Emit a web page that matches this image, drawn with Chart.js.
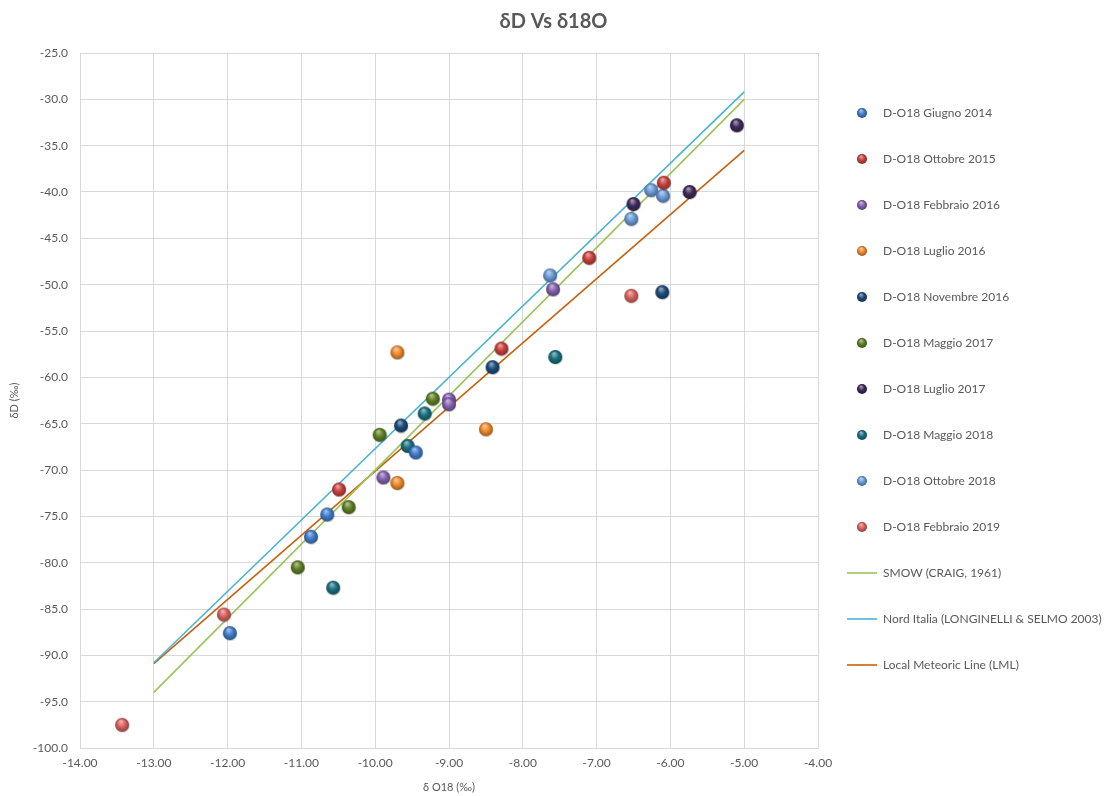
<!DOCTYPE html>
<html>
<head>
<meta charset="utf-8">
<script src="https://cdn.jsdelivr.net/npm/chart.js@4.4.0/dist/chart.umd.min.js"></script>
<style>
html, body { margin: 0; padding: 0; background: #fff; }
</style>
</head>
<body>
<canvas id="isotopi" width="1107" height="796"></canvas>
<script>
// campioni: X = delta 18O, Y = delta D
var giugno2014X = [-11.97, -10.87, -10.65, -9.45]
var giugno2014Y = [-87.6, -77.2, -74.8, -68.1]
var ottobre2015X = [-10.49, -8.29, -7.10, -6.09]
var ottobre2015Y = [-72.1, -56.9, -47.1, -39.0]
var febbraio2016X = [-9.89, -9.00, -9.00, -7.59]
var febbraio2016Y = [-70.8, -62.4, -62.9, -50.5]
var luglio2016X = [-9.70, -9.70, -8.50]
var luglio2016Y = [-57.3, -71.4, -65.6]
var novembre2016X = [-9.65, -8.41, -6.11]
var novembre2016Y = [-65.2, -58.9, -50.8]
var maggio2017X = [-11.05, -10.36, -9.94, -9.22]
var maggio2017Y = [-80.5, -74.0, -66.2, -62.3]
var luglio2017X = [-6.50, -5.74, -5.10]
var luglio2017Y = [-41.3, -40.0, -32.8]
var maggio2018X = [-10.57, -9.56, -9.33, -7.56]
var maggio2018Y = [-82.7, -67.4, -63.9, -57.8]
var ottobre2018X = [-7.63, -6.53, -6.26, -6.10]
var ottobre2018Y = [-49.0, -42.9, -39.8, -40.4]
var febbraio2019X = [-13.43, -12.05, -6.53]
var febbraio2019Y = [-97.5, -85.6, -51.2]

// rette di riferimento (estremi)
var retteX = [-13, -5]
var smowY = [-94.0, -30.0]
var nordItaliaY = [-90.8, -29.2]
var lmlY = [-90.9, -35.5]

var xTicks = [-14, -13, -12, -11, -10, -9, -8, -7, -6, -5, -4]
var yMin = -100, yMax = -25

var serie = [
    ['D-O18 Giugno 2014', giugno2014X, giugno2014Y, '#3f7dcc'],
    ['D-O18 Ottobre 2015', ottobre2015X, ottobre2015Y, '#c9413c'],
    ['D-O18 Febbraio 2016', febbraio2016X, febbraio2016Y, '#8461b0'],
    ['D-O18 Luglio 2016', luglio2016X, luglio2016Y, '#f08a2c'],
    ['D-O18 Novembre 2016', novembre2016X, novembre2016Y, '#1d4b7a'],
    ['D-O18 Maggio 2017', maggio2017X, maggio2017Y, '#5f7f25'],
    ['D-O18 Luglio 2017', luglio2017X, luglio2017Y, '#3f2a5a'],
    ['D-O18 Maggio 2018', maggio2018X, maggio2018Y, '#1a6f80'],
    ['D-O18 Ottobre 2018', ottobre2018X, ottobre2018Y, '#6a9bd8'],
    ['D-O18 Febbraio 2019', febbraio2019X, febbraio2019Y, '#d9625e']
]
var rette = [
    ['SMOW (CRAIG, 1961)', smowY, '#9bc45a'],
    ['Nord Italia (LONGINELLI & SELMO 2003)', nordItaliaY, '#4bb4d0'],
    ['Local Meteoric Line (LML)', lmlY, '#c8600e']
]

function shade(hex, amt) {
    var n = parseInt(hex.slice(1), 16)
    var c = [n >> 16, (n >> 8) & 255, n & 255]
    var t = amt < 0 ? 0 : 255, p = Math.abs(amt)
    c = c.map(function(v) { return Math.round(v + (t - v) * p) })
    return 'rgb(' + c.join(',') + ')'
}

// pallina "3D" come nei grafici excel
function sphere(hex, d, ombra) {
    var c = document.createElement('canvas')
    c.width = d + 2
    c.height = d + 2
    var ctx = c.getContext('2d')
    var r = d / 2, cx = d / 2 + 1, cy = d / 2 + 1
    if (ombra) {
        ctx.fillStyle = 'rgba(0,0,0,0.15)'
        ctx.beginPath()
        ctx.arc(cx + 0.5, cy + 1, r, 0, Math.PI * 2)
        ctx.fill()
    }
    var g = ctx.createRadialGradient(cx - r * 0.2, cy - r * 0.5, r * 0.1, cx, cy, r)
    g.addColorStop(0, shade(hex, 0.5))
    g.addColorStop(0.5, hex)
    g.addColorStop(1, shade(hex, -0.35))
    ctx.fillStyle = g
    ctx.beginPath()
    ctx.arc(cx, cy, r, 0, Math.PI * 2)
    ctx.fill()
    return c
}

var datasets = []
var legendDots = []
serie.forEach(function(s) {
    var punti = s[1].map(function(x, i) { return {x: x, y: s[2][i]} })
    datasets.push({
        label: s[0],
        data: punti,
        pointStyle: sphere(s[3], 14, true),
        backgroundColor: s[3],
        borderColor: s[3]
    })
    legendDots.push(sphere(s[3], 10, false))
})
rette.forEach(function(r) {
    datasets.push({
        label: r[0],
        data: retteX.map(function(x, i) { return {x: x, y: r[1][i]} }),
        showLine: true,
        pointRadius: 0,
        pointHoverRadius: 0,
        borderColor: r[2],
        backgroundColor: r[2],
        borderWidth: 1.6
    })
})

var spostaLegenda = {
    id: 'spostaLegenda',
    afterLayout: function(chart) {
        chart.legend.left -= 5
        chart.legend.top -= 18
    }
}

var grigio = '#595959'
var griglia = '#d9d9d9'

new Chart(document.getElementById('isotopi'), {
    type: 'scatter',
    data: { datasets: datasets },
    plugins: [spostaLegenda],
    options: {
        responsive: false,
        animation: false,
        devicePixelRatio: 1,
        plugins: {
            title: {
                display: true,
                text: 'δD Vs δ18O',
                color: grigio,
                font: { family: 'Lato', size: 20, weight: 'bold' },
                padding: { top: 10, bottom: 19 }
            },
            legend: {
                position: 'right',
                maxWidth: 289,
                labels: {
                    usePointStyle: true,
                    pointStyleWidth: 30,
                    padding: 34,
                    color: grigio,
                    font: { family: 'Lato', size: 12 },
                    generateLabels: function(chart) {
                        var items = Chart.defaults.plugins.legend.labels.generateLabels(chart)
                        items.forEach(function(it, i) {
                            var ds = chart.data.datasets[i]
                            if (ds.showLine) {
                                it.pointStyle = 'line'
                                it.strokeStyle = ds.borderColor
                                it.lineWidth = 1.6
                            } else {
                                it.pointStyle = legendDots[i]
                            }
                        })
                        return items
                    }
                }
            },
            tooltip: { enabled: false }
        },
        scales: {
            x: {
                type: 'linear',
                min: xTicks[0],
                max: xTicks[xTicks.length - 1],
                afterBuildTicks: function(s) { s.ticks = xTicks.map(function(v) { return {value: v} }) },
                afterFit: function(s) { s.height = 48 },
                grid: { color: griglia, drawTicks: false },
                border: { color: griglia },
                ticks: {
                    color: grigio,
                    padding: 8,
                    font: { family: 'Lato', size: 12 },
                    callback: function(v) { return v.toFixed(2) }
                },
                title: {
                    display: true,
                    text: 'δ O18 (‰)',
                    color: grigio,
                    font: { family: 'Lato', size: 11 },
                    padding: 2
                }
            },
            y: {
                min: yMin,
                max: yMax,
                afterFit: function(s) { s.width = 80 },
                grid: { color: griglia, drawTicks: false },
                border: { color: griglia },
                ticks: {
                    stepSize: 5,
                    color: grigio,
                    padding: 12,
                    font: { family: 'Lato', size: 12 },
                    callback: function(v) { return v.toFixed(1) }
                },
                title: {
                    display: true,
                    text: 'δD (‰)',
                    color: grigio,
                    font: { family: 'Lato', size: 11 },
                    padding: 8
                }
            }
        }
    }
})
</script>
</body>
</html>
